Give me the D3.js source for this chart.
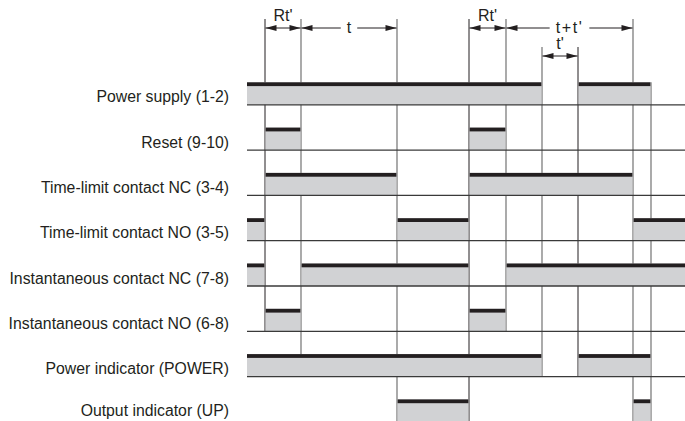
<!DOCTYPE html>
<html>
<head>
<meta charset="utf-8">
<script src="https://cdn.jsdelivr.net/npm/d3@7"></script>
<style>
  html, body { margin: 0; padding: 0; background: #fff; }
  svg { display: block; }
  text { font-family: "Liberation Sans", Arial, Helvetica, sans-serif; fill: #231f20; }
</style>
</head>
<body>
<svg id="chart" width="685" height="421"></svg>
<script>
// ---------- DATA ----------
const rowLabels = [
  "Power supply (1-2)",
  "Reset (9-10)",
  "Time-limit contact NC (3-4)",
  "Time-limit contact NO (3-5)",
  "Instantaneous contact NC (7-8)",
  "Instantaneous contact NO (6-8)",
  "Power indicator (POWER)",
  "Output indicator (UP)"
];
const timeEnd = 438;
// event instants (arbitrary time units)
const markerTimes = [18, 54, 150, 222, 259, 295, 331, 386, 404];
// which annotation tier a marker line starts at (0 = top dimension, 1 = t' dimension, -1 = starts at first signal)
const markerTier = [0, 0, 0, 0, 0, 1, 1, 0, -1];
// last row whose baseline the marker line reaches (8 = to the bottom)
const markerLastRow = [5, 6, 8, 8, 5, 6, 6, 8, 8];
// ON intervals per signal
const powerSupply   = [[0, 295], [331, 404]];
const reset         = [[18, 54], [222, 259]];
const timeLimitNC   = [[18, 150], [222, 386]];
const timeLimitNO   = [[0, 18], [150, 222], [386, timeEnd]];
const instantNC     = [[0, 18], [54, 222], [259, timeEnd]];
const instantNO     = [[18, 54], [222, 259]];
const powerIndicator = [[0, 295], [331, 404]];
const outputIndicator = [[150, 222], [386, 404]];
const signals = [powerSupply, reset, timeLimitNC, timeLimitNO, instantNC, instantNO, powerIndicator, outputIndicator];
// dimension annotations
const dimLabels = ["Rt'", "t", "Rt'", "t+t'", "t'"];
const dimFrom   = [18, 54, 222, 259, 295];
const dimTo     = [54, 150, 259, 386, 331];
const dimTier   = [0, 0, 0, 0, 1];
const dimInline = [false, true, false, true, false];

// ---------- DRAW ----------
const svg = d3.select("#chart");
const INK = "#231f20", GREY = "#d1d2d4";
const x = d3.scaleLinear().domain([0, timeEnd]).range([247, 685]);
const y = d3.scaleLinear().domain([0, 7]).range([104.8, 421.9]); // row baselines
const HIGH = 22.5, BAND = 3.8;
const tierY = d3.scaleOrdinal().domain([0, 1]).range([28, 56]);
const tierTop = d3.scaleOrdinal().domain([0, 1]).range([19, 47]);
const darkMarkers = new Set([0, 3, 6]);

// vertical event lines (under the signal blocks)
svg.append("g").selectAll("line").data(markerTimes).join("line")
  .attr("x1", d => x(d)).attr("x2", d => x(d))
  .attr("y1", (d, i) => markerTier[i] < 0 ? y(0) - HIGH : tierTop(markerTier[i]))
  .attr("y2", (d, i) => markerLastRow[i] >= 8 ? 421 : y(markerLastRow[i]))
  .attr("stroke", (d, i) => darkMarkers.has(i) ? INK : "#7d7d7d")
  .attr("stroke-width", (d, i) => darkMarkers.has(i) ? 1 : 1.3);

// signal blocks
const blocks = svg.append("g");
signals.forEach((ivs, r) => {
  const base = y(r);
  const g = blocks.append("g");
  const bx = d => x(d[0]) + (d[0] > 0 ? 0.6 : 0);
  const bw = d => x(d[1]) - x(d[0]) - (d[0] > 0 ? 0.6 : 0) - (d[1] < timeEnd ? 0.6 : 0);
  g.selectAll("rect.fill").data(ivs).join("rect").attr("class", "fill")
    .attr("x", bx).attr("width", bw)
    .attr("y", base - HIGH).attr("height", HIGH)
    .attr("fill", GREY);
  g.selectAll("rect.band").data(ivs).join("rect").attr("class", "band")
    .attr("x", bx).attr("width", bw)
    .attr("y", base - HIGH).attr("height", BAND)
    .attr("fill", INK);
});

// baselines
svg.append("g").selectAll("line").data(rowLabels).join("line")
  .attr("x1", x(0)).attr("x2", x(timeEnd))
  .attr("y1", (d, i) => y(i)).attr("y2", (d, i) => y(i))
  .attr("stroke", "#3a3a3a").attr("stroke-width", 1.3);

// row labels
svg.append("g").selectAll("text").data(rowLabels).join("text")
  .attr("x", 229).attr("y", (d, i) => Math.min(y(i) - 2.5, 415.5))
  .attr("text-anchor", "end").attr("font-size", "15.8px")
  .text(d => d);

// dimension arrows
function arrowHead(g, tipX, yy, dir) {
  const L = 11, H = 2.9;
  g.append("path")
    .attr("d", `M${tipX},${yy} L${tipX + dir * L},${yy - H} L${tipX + dir * L},${yy + H} Z`)
    .attr("fill", INK);
}
const dims = svg.append("g");
dimLabels.forEach((lab, i) => {
  const x0 = x(dimFrom[i]) + 0.5, x1 = x(dimTo[i]) - 0.5, yy = tierY(dimTier[i]);
  const g = dims.append("g");
  const cx = (x0 + x1) / 2;
  if (dimInline[i]) {
    const t = g.append("text").attr("x", cx).attr("y", yy + 5)
      .attr("text-anchor", "middle").attr("font-size", "16px")
      .attr("letter-spacing", lab.length > 1 ? "1.6px" : "0px").text(lab);
    const w = t.node().getComputedTextLength();
    const gap = w / 2 + 6;
    g.append("line").attr("x1", x0).attr("x2", cx - gap).attr("y1", yy).attr("y2", yy)
      .attr("stroke", INK).attr("stroke-width", 1);
    g.append("line").attr("x1", cx + gap).attr("x2", x1).attr("y1", yy).attr("y2", yy)
      .attr("stroke", INK).attr("stroke-width", 1);
  } else {
    g.append("text").attr("x", cx).attr("y", yy - 7.5)
      .attr("text-anchor", "middle").attr("font-size", "16px").text(lab);
    g.append("line").attr("x1", x0).attr("x2", x1).attr("y1", yy).attr("y2", yy)
      .attr("stroke", INK).attr("stroke-width", 1);
  }
  arrowHead(g, x0, yy, 1);
  arrowHead(g, x1, yy, -1);
});
</script>
</body>
</html>
